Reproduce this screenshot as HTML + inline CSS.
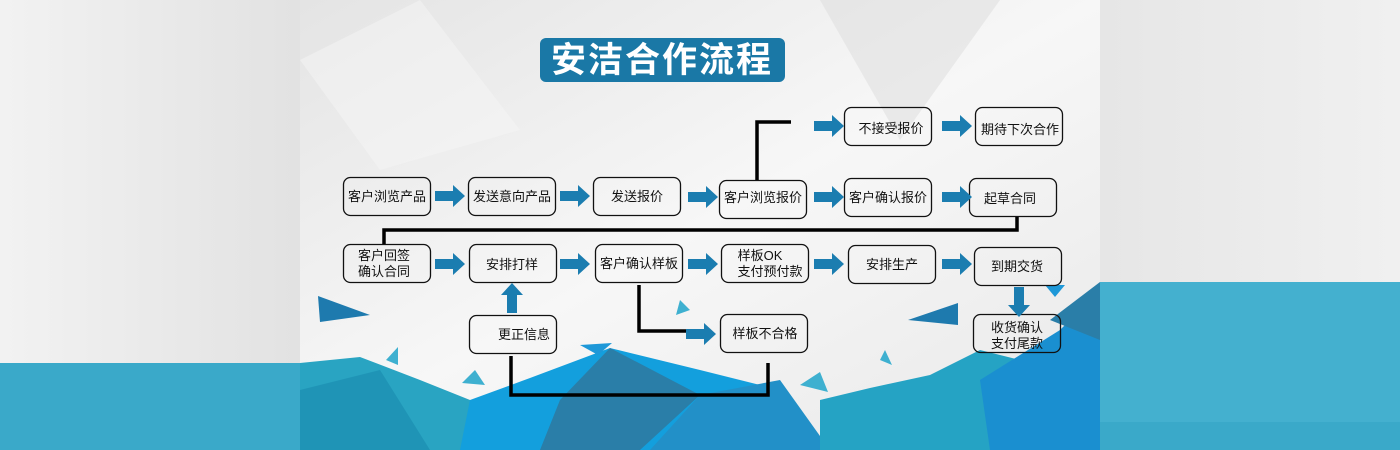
<!DOCTYPE html>
<html><head><meta charset="utf-8"><style>
html,body{margin:0;padding:0;width:1400px;height:450px;overflow:hidden;background:#ececec}
svg{display:block}
text{font-family:"Liberation Sans","Noto Sans CJK SC",sans-serif;font-size:13px;fill:#111}
</style></head><body>
<svg width="1400" height="450" viewBox="0 0 1400 450" xmlns="http://www.w3.org/2000/svg">
<defs>
<linearGradient id="lg" x1="0" y1="0" x2="1" y2="0"><stop offset="0" stop-color="#f2f2f2"/><stop offset="1" stop-color="#e2e2e2"/></linearGradient>
<linearGradient id="rg" x1="0" y1="0" x2="1" y2="0"><stop offset="0" stop-color="#e6e6e6"/><stop offset="1" stop-color="#f0f0f0"/></linearGradient>
<linearGradient id="mg" x1="0" y1="0" x2="1" y2="1"><stop offset="0" stop-color="#e4e4e4"/><stop offset=".5" stop-color="#f7f7f7"/><stop offset="1" stop-color="#e8e8e8"/></linearGradient>
<g id="ar"><polygon points="0,-5 18,-5 18,-11 30,0 18,11 18,5 0,5" fill="#1b7db0"/></g>
</defs>
<rect x="0" y="0" width="300" height="450" fill="url(#lg)"/>
<rect x="0" y="363" width="300" height="87" fill="#3aa9c9"/>
<rect x="1100" y="0" width="300" height="450" fill="url(#rg)"/>
<rect x="1100" y="282" width="300" height="168" fill="#3aa9c9"/>
<rect x="1100" y="282" width="300" height="140" fill="#44b0cf"/>
<rect x="300" y="0" width="800" height="450" fill="url(#mg)"/>
<polygon points="300,60 420,0 520,130 380,170" fill="#f5f5f5" opacity=".5"/>
<polygon points="820,0 1000,0 900,140" fill="#dcdcdc" opacity=".5"/>
<!-- bottom polygons -->
<polygon points="300,363 360,357 420,380 470,400 480,450 300,450" fill="#29a4c2"/>
<polygon points="300,390 380,370 430,450 300,450" fill="#1f94b6"/>
<polygon points="470,400 530,378 610,348 700,370 760,385 790,400 830,450 460,450" fill="#139fdd"/>
<polygon points="560,400 610,348 700,395 640,450 540,450" fill="#2a7ea8"/>
<polygon points="700,395 780,380 830,450 650,450" fill="#2290c8"/>
<polygon points="820,400 870,388 930,375 980,350 1020,360 1060,335 1100,300 1100,450 820,450" fill="#25a3c4"/>
<polygon points="980,380 1060,330 1100,290 1100,450 990,450" fill="#1a8fd0"/>
<polygon points="1050,320 1100,282 1100,340" fill="#2a7ea8"/>
<polygon points="318,296 370,315 320,322" fill="#1e7aae"/>
<polygon points="908,320 958,303 958,325" fill="#1e7aae"/>
<polygon points="580,345 612,343 598,355" fill="#1e98d8"/>
<polygon points="386,360 398,347 398,365" fill="#3eb0d0"/>
<polygon points="462,383 475,370 485,385" fill="#3eb0d0"/>
<polygon points="800,385 820,372 828,392" fill="#3eb0d0"/>
<polygon points="885,350 892,365 880,360" fill="#3eb0d0"/>
<polygon points="680,300 690,310 676,315" fill="#3eb0d0"/>
<polygon points="1045,285 1065,285 1055,297" fill="#1e98d8"/>
<!-- title -->
<rect x="540" y="38" width="245" height="44" rx="6" fill="#1a78a6"/>
<text x="662" y="72" text-anchor="middle" style="font-size:35px;fill:#fff;font-weight:bold;letter-spacing:2px">安洁合作流程</text>
<!-- connectors -->
<g fill="none" stroke="#000" stroke-width="3.5">
<polyline points="1017,216 1017,230 384,230 384,244"/>
<polyline points="757,180 757,122 791,122"/>
<polyline points="639,285 639,331 686,331"/>
<polyline points="511,356 511,395 768,395 768,363"/>
</g>
<!-- boxes -->
<g fill="none" stroke="#111" stroke-width="1.3">
<rect x="343.5" y="177.5" width="87" height="38" rx="7"/>
<rect x="468.5" y="177.5" width="87" height="38" rx="7"/>
<rect x="593.5" y="177.5" width="87" height="38" rx="7"/>
<rect x="719.5" y="180.5" width="87" height="38" rx="7"/>
<rect x="844.5" y="178.5" width="87" height="38" rx="7"/>
<rect x="969.5" y="178.5" width="87" height="38" rx="7"/>
<rect x="844.5" y="107.5" width="87" height="38" rx="7"/>
<rect x="975.5" y="107.5" width="87" height="38" rx="7"/>
<rect x="343.5" y="244.5" width="87" height="38" rx="7"/>
<rect x="469.5" y="244.5" width="87" height="38" rx="7"/>
<rect x="595.5" y="244.5" width="87" height="38" rx="7"/>
<rect x="721.5" y="244.5" width="87" height="38" rx="7"/>
<rect x="848.5" y="245.5" width="87" height="38" rx="7"/>
<rect x="974.5" y="247.5" width="87" height="38" rx="7"/>
<rect x="469.5" y="315.5" width="87" height="38" rx="7"/>
<rect x="720.5" y="314.5" width="87" height="38" rx="7"/>
<rect x="973.5" y="314.5" width="87" height="38" rx="7"/>
</g>
<!-- arrows -->
<use href="#ar" x="435" y="196"/>
<use href="#ar" x="560" y="196"/>
<use href="#ar" x="688" y="197"/>
<use href="#ar" x="814" y="197"/>
<use href="#ar" x="942" y="197"/>
<use href="#ar" x="814" y="126"/>
<use href="#ar" x="942" y="126"/>
<use href="#ar" x="435" y="264"/>
<use href="#ar" x="560" y="264"/>
<use href="#ar" x="688" y="264"/>
<use href="#ar" x="814" y="264"/>
<use href="#ar" x="942" y="264"/>
<use href="#ar" x="686" y="334"/>
<use href="#ar" transform="translate(512,313) rotate(-90)"/>
<use href="#ar" transform="translate(1019,287) rotate(90)"/>
<!-- labels -->
<g text-anchor="middle">
<text x="387" y="201">客户浏览产品</text>
<text x="512" y="201">发送意向产品</text>
<text x="637" y="201">发送报价</text>
<text x="763" y="202">客户浏览报价</text>
<text x="888" y="202">客户确认报价</text>
<text x="1010" y="203">起草合同</text>
<text x="891" y="133">不接受报价</text>
<text x="1020" y="134">期待下次合作</text>
<text x="384" y="260">客户回签</text>
<text x="384" y="276">确认合同</text>
<text x="512" y="269">安排打样</text>
<text x="639" y="268">客户确认样板</text>
<text x="760" y="260">样板OK</text>
<text x="770" y="276">支付预付款</text>
<text x="892" y="269">安排生产</text>
<text x="1017" y="271">到期交货</text>
<text x="524" y="339">更正信息</text>
<text x="765" y="338">样板不合格</text>
<text x="1017" y="332">收货确认</text>
<text x="1017" y="348">支付尾款</text>
</g>
</svg>
</body></html>
